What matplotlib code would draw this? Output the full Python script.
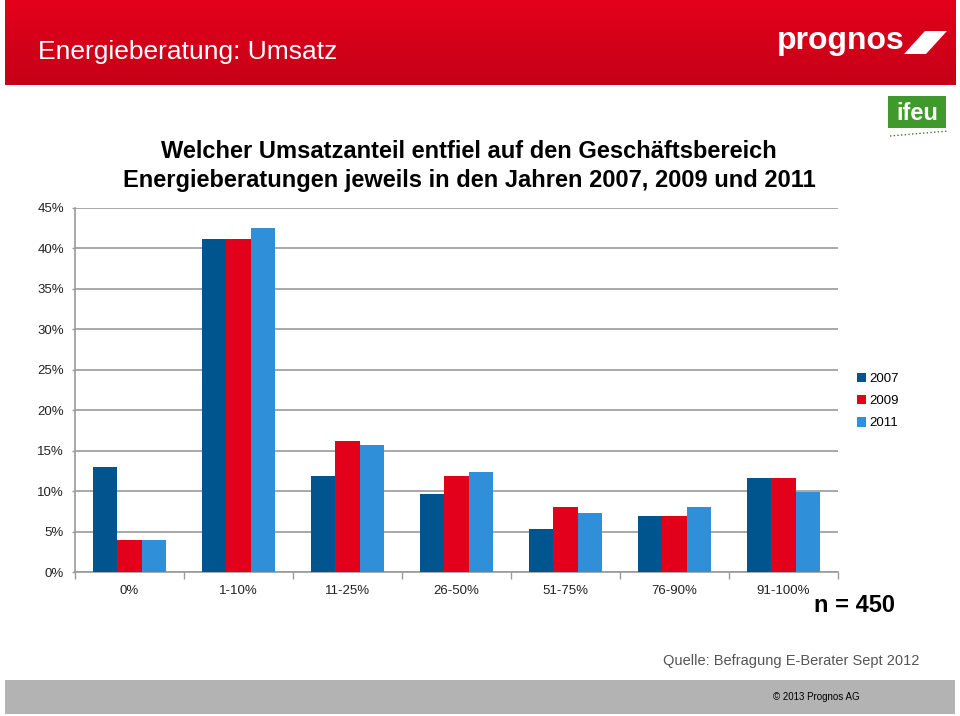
import numpy as np
import matplotlib
matplotlib.use("Agg")
import matplotlib.pyplot as plt
from matplotlib.patches import Rectangle, Polygon
from matplotlib.lines import Line2D
from matplotlib.colors import LinearSegmentedColormap

plt.rcParams['font.family'] = ['Liberation Sans', 'DejaVu Sans']

categories = ["0%", "1-10%", "11-25%", "26-50%", "51-75%", "76-90%", "91-100%"]
years = ["2007", "2009", "2011"]
v2007 = [13.0, 41.1, 11.9, 9.7, 5.3, 6.9, 11.7]
v2009 = [4.0, 41.1, 16.2, 11.9, 8.0, 6.9, 11.7]
v2011 = [4.0, 42.5, 15.75, 12.4, 7.3, 8.0, 9.95]
yticks = [0, 5, 10, 15, 20, 25, 30, 35, 40, 45]
colors = ["#00558e", "#e2001a", "#2f8fd8"]

W, H = 960, 716
fig = plt.figure(figsize=(W / 100, H / 100), dpi=100)

def fx(px):
    return px / W

def fy(py):
    return 1 - py / H

# header gradient bar
hax = fig.add_axes([fx(5), fy(85), fx(950), 85 / H])
grad = np.linspace(0, 1, 100).reshape(-1, 1)
cmap = LinearSegmentedColormap.from_list("hdr", ["#e4001b", "#c50018"])
hax.imshow(grad, aspect="auto", cmap=cmap, extent=[0, 1, 0, 1], origin="upper")
hax.set_axis_off()

fig.text(fx(38), fy(52), "Energieberatung: Umsatz", color="white", fontsize=19,
         va="center", ha="left")
fig.text(fx(777), fy(41), "prognos", color="white", fontsize=23, fontweight="bold",
         va="center", ha="left")
fig.patches.append(Polygon([[fx(904), fy(54)], [fx(926), fy(54)], [fx(947), fy(31)], [fx(925), fy(31)]],
                           closed=True, transform=fig.transFigure, facecolor="white", edgecolor="none"))

# ifeu logo
fig.patches.append(Rectangle((fx(888), fy(128)), fx(58), 32 / H, transform=fig.transFigure,
                             facecolor="#3f9a2b", edgecolor="none"))
fig.text(fx(917), fy(113), "ifeu", color="white", fontsize=17, fontweight="bold",
         va="center", ha="center")
fig.lines.append(Line2D([fx(890), fx(948)], [fy(136), fy(131)], transform=fig.transFigure,
                        color="#3f7a2b", lw=1, ls=":"))

# main chart
ax = fig.add_axes([fx(75), fy(572.3), fx(838 - 75), (572.3 - 207.7) / H])
x = np.arange(len(categories))
bw = 0.223
for i, (vals, c, lab) in enumerate(zip([v2007, v2009, v2011], colors, years)):
    ax.bar(x + (i - 1) * bw, vals, width=bw, color=c, label=lab, zorder=3)

ax.set_xlim(-0.5, len(categories) - 0.5)
ax.set_ylim(0, 45)
ax.set_yticks(yticks)
ax.set_yticklabels([f"{t}%" for t in yticks], fontsize=9.5, color="#222222")
ax.yaxis.grid(True, color="#9a9a9a", lw=1.2, zorder=0)
ax.set_xticks(np.arange(len(categories) + 1) - 0.5)
ax.set_xticklabels([])
ax.set_xticks(x, minor=True)
ax.set_xticklabels(categories, minor=True, fontsize=9.5, color="#222222")
ax.tick_params(axis="x", which="major", length=5, color="#9a9a9a", width=1)
ax.tick_params(axis="x", which="minor", length=0, pad=9)
ax.tick_params(axis="y", length=2.5, color="#9a9a9a", width=1, pad=5.5)
for s in ["top", "right"]:
    ax.spines[s].set_visible(False)
for s in ["left", "bottom"]:
    ax.spines[s].set_color("#9a9a9a")
    ax.spines[s].set_linewidth(1.2)

fig.text(fx(469), fy(152), "Welcher Umsatzanteil entfiel auf den Geschäftsbereich",
         fontsize=17, fontweight="bold", ha="center", va="center", color="black")
fig.text(fx(469), fy(180), "Energieberatungen jeweils in den Jahren 2007, 2009 und 2011",
         fontsize=17, fontweight="bold", ha="center", va="center", color="black")

leg = fig.legend(loc="upper left", bbox_to_anchor=(fx(857), fy(373)), frameon=False,
                 fontsize=9.5, handlelength=0.7, handleheight=0.7, handletextpad=0.25,
                 labelspacing=0.75, borderpad=0, borderaxespad=0)

fig.text(fx(855), fy(606), "n = 450", fontsize=17, fontweight="bold", ha="center", va="center")
fig.text(fx(791), fy(661), "Quelle: Befragung E-Berater Sept 2012", fontsize=10.5,
         ha="center", va="center", color="#555555")

# footer
fig.patches.append(Rectangle((fx(5), fy(714)), fx(950), 34 / H, transform=fig.transFigure,
                             facecolor="#b3b3b3", edgecolor="none"))
fig.text(fx(816), fy(697), "© 2013 Prognos AG", fontsize=7, ha="center", va="center",
         color="black")

fig.savefig("out.png", dpi=100, facecolor="white")
